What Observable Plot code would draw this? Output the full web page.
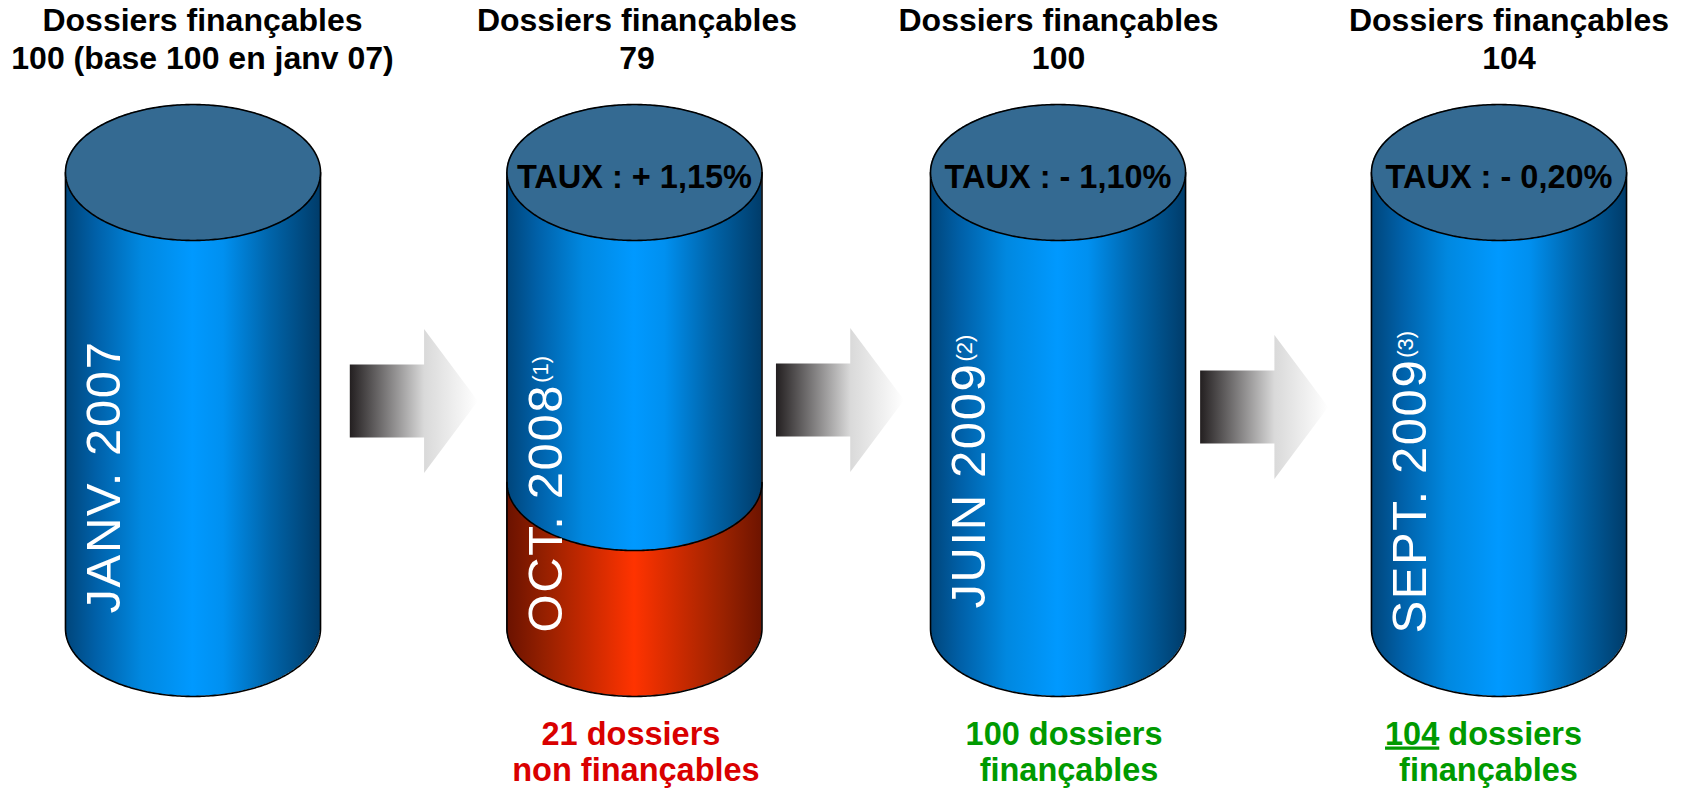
<!DOCTYPE html>
<html>
<head>
<meta charset="utf-8">
<script src="https://cdn.jsdelivr.net/npm/d3@7"></script>
<script src="https://cdn.jsdelivr.net/npm/@observablehq/plot@0.6"></script>
<style>
  html, body { margin: 0; padding: 0; background: #ffffff; }
  #chart svg { display: block; }
</style>
</head>
<body>
<div id="chart"></div>
<script>
// ---------------- DATA ----------------
const periods = ["JANV. 2007", "OCT. 2008", "JUIN 2009", "SEPT. 2009"];
const footnotes = [null, 1, 2, 3];
const financables = [100, 79, 100, 104];
const nonFinancables = [0, 21, 0, 0];
const titleNotes = ["(base 100 en janv 07)", "", "", ""];
const rates = [null, "+ 1,15%", "- 1,10%", "- 0,20%"];
const emphasised = [false, false, false, true];
const redBandDrawn = [0, 32, 0, 0];
const cylinderLevel = 100;

// ---------------- LAYOUT (styles / geometry, not data) ----------------
const W = 1687, H = 792;
const RX = 0.2927;          // cylinder half width, in x units
const RY = 14.9;            // ellipse half height, in y units
const cylNudge = [0.5, 6.3, -5.8, -0.5];
const titleNudge = [9.5, 2.5, 0.5, 10];
const vertNudge = [-15, 4, -20, 5];
const bottomNudge = [0, -1, 8.5, -13];
const arrowNudgeX = [4, -5.5, -17];
const arrowNudgeY = [1, 0, 7];
const TITLE = 32, TAUXSIZE = 32.5, LABEL = 32.5, VERT = 49;
const FONT = "'Liberation Sans', Arial, Helvetica, sans-serif";
const RED = "#d90000", GREEN = "#009a00", TOPFILL = "#346a92";

const idx = d3.range(periods.length);
const marks = [];

function frontArc(i) {
  // t from PI (left) to 0 (right); s = sin(t) >= 0 (front, lower half)
  return d3.range(0, 181).map(k => {
    const t = Math.PI - Math.PI * k / 180;
    return {x: i + RX * Math.cos(t), s: Math.sin(t)};
  });
}

for (const i of idx) {
  const nx = cylNudge[i];
  const arc = frontArc(i);
  // blue body
  marks.push(Plot.areaY(arc, {x: "x", y1: d => -RY * d.s, y2: cylinderLevel, fill: "url(#gBlue)", dx: nx}));
  // red band (non financeable)
  if (redBandDrawn[i] > 0) {
    const r = redBandDrawn[i];
    marks.push(Plot.areaY(arc, {x: "x", y1: d => -RY * d.s, y2: d => r - RY * d.s, fill: "url(#gRed)", dx: nx}));
    marks.push(Plot.line(arc, {x: "x", y: d => r - RY * d.s, stroke: "#000", strokeWidth: 1.6, dx: nx}));
  }
  // outline of sides and bottom
  const outline = [{x: i - RX, y: cylinderLevel}]
    .concat(arc.map(d => ({x: d.x, y: -RY * d.s})))
    .concat([{x: i + RX, y: cylinderLevel}]);
  marks.push(Plot.line(outline, {x: "x", y: "y", stroke: "#000", strokeWidth: 1.6, dx: nx}));
  // top ellipse
  marks.push(Plot.areaY(arc, {x: "x", y1: d => cylinderLevel - RY * d.s, y2: d => cylinderLevel + RY * d.s, fill: TOPFILL, dx: nx}));
  const ring = d3.range(0, 361).map(k => {
    const t = 2 * Math.PI * k / 360;
    return {x: i + RX * Math.cos(t), y: cylinderLevel + RY * Math.sin(t)};
  });
  marks.push(Plot.line(ring, {x: "x", y: "y", stroke: "#000", strokeWidth: 1.6, dx: nx}));

  // titles above
  marks.push(Plot.text([i], {x: d => d, frameAnchor: "top", dy: 30.5, text: () => "Dossiers finançables",
    lineAnchor: "bottom", fontSize: TITLE, fontWeight: "bold", fill: "#000", dx: nx + titleNudge[i]}));
  marks.push(Plot.text([i], {x: d => d, frameAnchor: "top", dy: 68, text: d => (financables[d] + " " + titleNotes[d]).trim(),
    lineAnchor: "bottom", fontSize: TITLE, fontWeight: "bold", fill: "#000", dx: nx + titleNudge[i]}));

  // rate on the top ellipse
  if (rates[i]) {
    marks.push(Plot.text([i], {x: d => d, y: cylinderLevel, text: d => "TAUX : " + rates[d],
      lineAnchor: "bottom", dy: 15.5, fontSize: TAUXSIZE, fontWeight: "bold", fill: "#000", dx: nx}));
  }

  // vertical period label
  marks.push(Plot.text([i], {x: d => d, y: 0, text: d => periods[d], rotate: -90, textAnchor: "start",
    lineAnchor: "bottom", fontSize: VERT, fill: "#ffffff", dx: nx - 72.7, dy: vertNudge[i]}));

  // bottom labels
  if (i > 0) {
    const isRed = nonFinancables[i] > 0;
    const n = isRed ? nonFinancables[i] : financables[i];
    const col = isRed ? RED : GREEN;
    marks.push(Plot.text([i], {x: d => d, frameAnchor: "bottom", dy: -48, text: () => n + " dossiers",
      lineAnchor: "bottom", fontSize: LABEL, fontWeight: "bold", fill: col, dx: nx + bottomNudge[i] - 2.5}));
    marks.push(Plot.text([i], {x: d => d, frameAnchor: "bottom", dy: -12, text: () => (isRed ? "non " : "") + "finançables",
      lineAnchor: "bottom", fontSize: LABEL, fontWeight: "bold", fill: col, dx: nx + bottomNudge[i] + 2.5}));
  }
}

// arrows between cylinders
const AL = 0.294, ARECT = 0.58, AH = 15.8, AR = 8.0, AY = 50;
for (const a of d3.range(periods.length - 1)) {
  const c = a + 0.5;
  const x0 = c - AL / 2, xm = x0 + ARECT * AL, xt = c + AL / 2;
  const pts = [
    {x: x0, y1: AY - AR, y2: AY + AR},
    {x: xm, y1: AY - AR, y2: AY + AR},
    {x: xm, y1: AY - AH, y2: AY + AH},
    {x: xt, y1: AY, y2: AY}
  ];
  marks.push(Plot.areaY(pts, {x: "x", y1: "y1", y2: "y2", fill: "url(#gArrow)", dx: arrowNudgeX[a], dy: arrowNudgeY[a]}));
}

const svg = Plot.plot({
  width: W, height: H,
  marginTop: 0, marginRight: 0, marginBottom: 0, marginLeft: 0,
  x: {domain: [0, 3], range: [192, 1499], axis: null},
  y: {domain: [0, 100], range: [628, 172], axis: null},
  style: {fontFamily: FONT, background: "#ffffff", overflow: "visible"},
  marks
});

// gradients
const defs = d3.create("svg:defs");
function grad(id, stops) {
  const g = defs.append("linearGradient").attr("id", id).attr("x1", 0).attr("x2", 1).attr("y1", 0).attr("y2", 0);
  for (const [o, c] of stops) g.append("stop").attr("offset", o).attr("stop-color", c);
}
grad("gBlue", [[0, "#00457a"], [0.12, "#0060a8"], [0.3, "#0088e0"], [0.5, "#0099ff"], [0.62, "#0090f0"], [0.8, "#0065ab"], [1, "#003c6a"]]);
grad("gRed", [[0, "#6a1200"], [0.15, "#962000"], [0.5, "#ff3300"], [0.85, "#9a2200"], [1, "#6e1400"]]);
grad("gArrow", [[0, "#231f20"], [0.58, "#d9d9d9"], [1, "#ffffff"]]);
svg.insertBefore(defs.node(), svg.firstChild);

// superscript footnotes, letter spacing of period labels, and emphasis
const NS = "http://www.w3.org/2000/svg";
svg.querySelectorAll("text").forEach(t => {
  const k = periods.indexOf(t.textContent);
  if (k >= 0) {
    t.setAttribute("letter-spacing", 1.6);
    if (footnotes[k] != null) {
      const ts = document.createElementNS(NS, "tspan");
      ts.setAttribute("font-size", 22);
      ts.setAttribute("letter-spacing", 0);
      ts.setAttribute("dy", -13.6);
      ts.setAttribute("dx", 1);
      ts.textContent = "(" + footnotes[k] + ")";
      t.appendChild(ts);
    }
  }
  idx.forEach(i => {
    if (emphasised[i] && t.textContent === financables[i] + " dossiers") {
      t.textContent = "";
      const a = document.createElementNS(NS, "tspan");
      a.setAttribute("style", "text-decoration: underline");
      a.textContent = String(financables[i]);
      const b = document.createElementNS(NS, "tspan");
      b.textContent = " dossiers";
      t.appendChild(a); t.appendChild(b);
    }
  });
});

document.getElementById("chart").appendChild(svg);
</script>
</body>
</html>
